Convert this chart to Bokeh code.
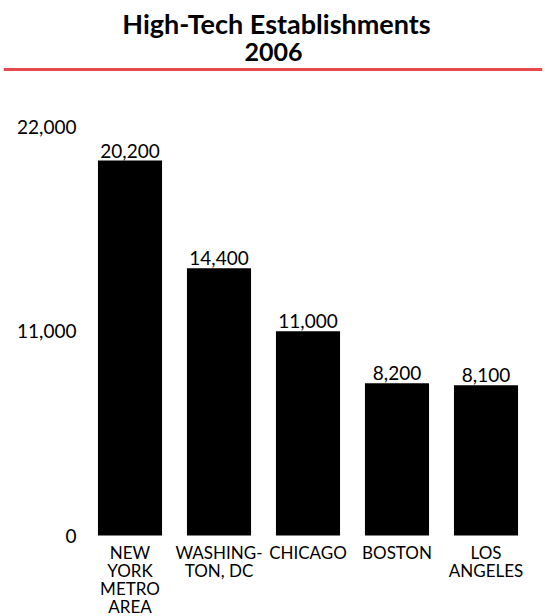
from bokeh.plotting import figure
from bokeh.models import Range1d, FactorRange, FixedTicker, NumeralTickFormatter, Label, ColumnDataSource
from bokeh.core.properties import value
from bokeh.embed import file_html
from bokeh.resources import INLINE

title_line1 = "High-Tech Establishments"
title_line2 = "2006"
categories = ["NEW\nYORK\nMETRO\nAREA", "WASHING-\nTON, DC", "CHICAGO", "BOSTON", "LOS\nANGELES"]
establishments = [20200, 14400, 11000, 8200, 8100]
y_ticks = [0, 11000, 22000]

FONT = "Lato"
RED = "#e8474d"
W = 545
RULE = 4      # height of the top red rule strip
TH = 72       # page row where the chart panel begins

# ---- top red rule (a thin figure filled red) ----
rule = figure(width=W, height=RULE, x_axis_type=None, y_axis_type=None, toolbar_location=None,
              output_backend="svg", min_border=0, min_border_left=0, min_border_right=0,
              min_border_top=0, min_border_bottom=0)
rule.outline_line_color = None
rule.grid.visible = False
rule.background_fill_color = RED
rule.border_fill_color = RED

# ---- title panel (data y = page pixel row) ----
t = figure(width=W, height=TH - RULE, x_range=Range1d(3, 542), y_range=Range1d(TH, RULE),
           x_axis_type=None, y_axis_type=None, toolbar_location=None,
           output_backend="svg", min_border_left=3, min_border_right=3,
           min_border_top=0, min_border_bottom=0)
t.outline_line_color = None
t.grid.visible = False
t.hspan(y=[69], line_color=RED, line_width=3)
t.add_layout(Label(x=276, y=23, text=title_line1, text_align="center", text_baseline="middle",
                   text_font=FONT, text_font_style="bold", text_font_size="27px", text_color="black"))
t.add_layout(Label(x=273, y=51, text=title_line2, text_align="center", text_baseline="middle",
                   text_font=FONT, text_font_style="bold", text_font_size="25px", text_color="black"))

# ---- bar chart ----
H = 616 - TH
scale = 375 / 20200.0
zero_px = 535 - TH          # pixel row of value 0 inside this figure
top_px = 88 - TH            # frame top inside this figure
y0 = -(H - zero_px) / scale
y1 = (zero_px - top_px) / scale
p = figure(width=W, height=H, x_range=FactorRange(*categories), y_range=Range1d(y0, y1),
           toolbar_location=None, output_backend="svg",
           min_border_top=top_px, min_border_bottom=0, min_border_left=85, min_border_right=15)
p.outline_line_color = None
p.grid.visible = False
p.xaxis.visible = False

src = ColumnDataSource(dict(cat=categories, val=establishments,
                            lab=[f"{v:,}" for v in establishments]))
p.vbar(x="cat", top="val", bottom=0, width=0.72, source=src, fill_color="black", line_color=None)
p.text(x="cat", y="val", text="lab", source=src, text_align="center", text_baseline="middle",
       y_offset=-10, text_font=value(FONT), text_font_size="19px", text_color="black")
p.text(x="cat", y=0, text="cat", source=src, text_align="center", text_baseline="top",
       y_offset=6, text_font=value(FONT), text_font_size="17px", text_color="black",
       text_line_height=0.87)

ya = p.yaxis[0]
ya.ticker = FixedTicker(ticks=y_ticks)
ya.formatter = NumeralTickFormatter(format="0,0")
ya.axis_line_color = None
ya.major_tick_line_color = None
ya.minor_tick_line_color = None
ya.major_tick_out = 0
ya.major_tick_in = 0
ya.major_label_standoff = 9
ya.major_label_text_font = FONT
ya.major_label_text_font_size = "19px"
ya.major_label_text_color = "black"

open("out.html", "w").write(file_html([rule, t, p], INLINE))
